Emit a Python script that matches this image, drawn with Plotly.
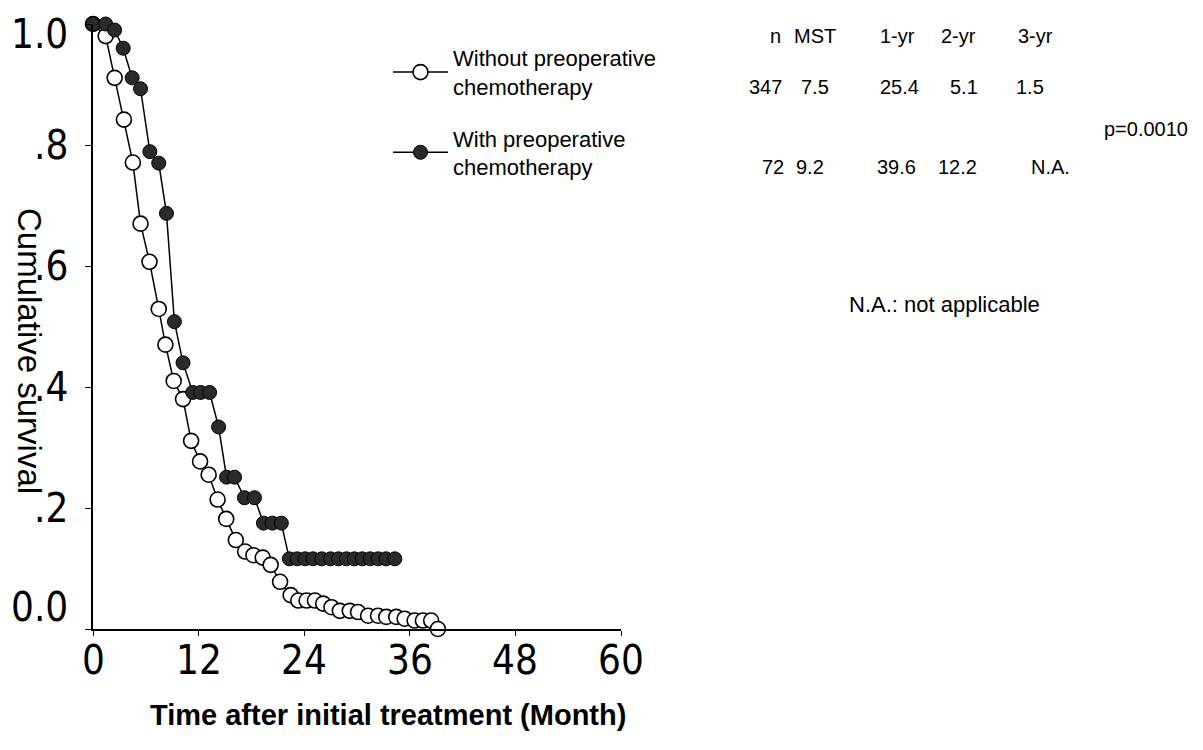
import plotly.graph_objects as go

# ---------------- data ----------------
without_t = [0, 1.44, 2.46, 3.51, 4.53, 5.40, 6.42, 7.47, 8.23, 9.17, 10.23, 11.15, 12.17,
             13.14, 14.16, 15.14, 16.23, 17.29, 18.23, 19.29, 20.19, 21.26, 22.46, 23.33,
             24.27, 25.22, 26.16, 27.10, 28.05, 29.18, 30.12, 31.26, 32.39, 33.33, 34.46,
             35.41, 36.55, 37.49, 38.43, 39.19]
without_s = [1.0, 0.980, 0.911, 0.842, 0.771, 0.670, 0.607, 0.529, 0.470, 0.410, 0.380, 0.311,
             0.277, 0.255, 0.214, 0.182, 0.147, 0.128, 0.122, 0.118, 0.106, 0.078, 0.056,
             0.047, 0.047, 0.047, 0.042, 0.036, 0.030, 0.030, 0.028, 0.022, 0.022, 0.020,
             0.020, 0.017, 0.014, 0.014, 0.014, 0.0]

with_t = [0, 1.44, 2.46, 3.43, 4.45, 5.40, 6.46, 7.47, 8.35, 9.25, 10.23, 11.33, 12.23, 13.25,
          14.27, 15.18, 16.08, 17.21, 18.35, 19.37, 20.38, 21.40, 22.31, 23.2, 24.1, 25.0,
          26.0, 27.0, 27.9, 28.8, 29.7, 30.6, 31.5, 32.4, 33.3, 34.3]
with_s = [1.0, 1.0, 0.990, 0.960, 0.911, 0.893, 0.789, 0.770, 0.687, 0.508, 0.440, 0.391,
          0.391, 0.391, 0.334, 0.251, 0.251, 0.217, 0.217, 0.175, 0.175, 0.175, 0.116, 0.116,
          0.116, 0.116, 0.116, 0.116, 0.116, 0.116, 0.116, 0.116, 0.116, 0.116, 0.116, 0.116]

series_names = ["Without preoperative<br>chemotherapy", "With preoperative<br>chemotherapy"]

x_tick_vals = [0, 12, 24, 36, 48, 60]
x_tick_text = ["0", "12", "24", "36", "48", "60"]
y_tick_vals = [0.0, 0.2, 0.4, 0.6, 0.8, 1.0]
y_tick_text = ["0.0", ".2", ".4", ".6", ".8", "1.0"]

table_header = ["n", "MST", "1-yr", "2-yr", "3-yr"]
table_without = ["347", "7.5", "25.4", "5.1", "1.5"]
table_with = ["72", "9.2", "39.6", "12.2", "N.A."]
p_value_text = "p=0.0010"
na_note = "N.A.: not applicable"

x_title = "Time after initial treatment (Month)"
y_title = "Cumulative survival"

# ---------------- layout geometry ----------------
W, H = 1203, 750
PL, PR, PT, PB = 85, 613, 16, 621   # plot-area pixel edges


def px_x(px):
    return (px - PL) / (PR - PL)


def px_y(py):
    return (PB - py) / (PB - PT)


TICK_FONT = "Liberation Sans Narrow, Arial Narrow, DejaVu Sans Condensed, Liberation Sans, Arial"
TEXT_FONT = "Liberation Sans, Arial, Helvetica, sans-serif"

fig = go.Figure()

fig.add_trace(go.Scatter(
    x=without_t, y=without_s, name=series_names[0], mode="lines+markers",
    line=dict(color="black", width=1.5),
    marker=dict(symbol="circle", size=15, color="white", line=dict(color="black", width=1.6)),
    cliponaxis=False, legendgroup="a",
))
fig.add_trace(go.Scatter(
    x=with_t, y=with_s, name=series_names[1], mode="lines+markers",
    line=dict(color="black", width=1.5),
    marker=dict(symbol="circle", size=14, color="#2a2a2a", line=dict(color="black", width=1)),
    cliponaxis=False, legendgroup="b",
))

annotations = []

# y tick labels (zero label sits slightly above the x axis; top label kept inside the page)
for v, t in zip(y_tick_vals, y_tick_text):
    if v == 1.0:
        ya, ys = "top", PT - 1
    else:
        ya, ys = "middle", (22 if v == 0 else 0)
    annotations.append(dict(
        x=0, y=v, xref="paper", yref="y", text=t, showarrow=False,
        xanchor="right", yanchor=ya, xshift=-23, yshift=ys,
        font=dict(family=TICK_FONT, size=40, color="black"),
    ))
# x tick labels
for v, t in zip(x_tick_vals, x_tick_text):
    annotations.append(dict(
        x=v, y=0, xref="x", yref="paper", text=t, showarrow=False,
        xanchor="center", yanchor="middle", yshift=-31,
        font=dict(family=TICK_FONT, size=40, color="black"),
    ))

# axis titles
annotations.append(dict(
    x=px_x(380), y=px_y(707), xref="paper", yref="paper", text="<b>" + x_title + "</b>",
    showarrow=False, xanchor="center", yanchor="middle",
    font=dict(family=TEXT_FONT, size=29, color="black"),
))
annotations.append(dict(
    x=px_x(22), y=px_y(343), xref="paper", yref="paper", text=y_title, textangle=90,
    showarrow=False, xanchor="center", yanchor="middle",
    font=dict(family=TEXT_FONT, size=33, color="black"),
))

# table
TFS = 20
col_x_header = [767, 807, 889, 950, 1027]
col_x_row1 = [757, 807, 891, 956, 1022]
col_x_row2 = [765, 802, 888, 949, 1042]
for txt, cx in zip(table_header, col_x_header):
    annotations.append(dict(x=px_x(cx), y=px_y(28), xref="paper", yref="paper", text=txt,
                            showarrow=False, xanchor="center", yanchor="middle",
                            font=dict(family=TEXT_FONT, size=TFS, color="black")))
for txt, cx in zip(table_without, col_x_row1):
    annotations.append(dict(x=px_x(cx), y=px_y(79), xref="paper", yref="paper", text=txt,
                            showarrow=False, xanchor="center", yanchor="middle",
                            font=dict(family=TEXT_FONT, size=TFS, color="black")))
for txt, cx in zip(table_with, col_x_row2):
    annotations.append(dict(x=px_x(cx), y=px_y(159), xref="paper", yref="paper", text=txt,
                            showarrow=False, xanchor="center", yanchor="middle",
                            font=dict(family=TEXT_FONT, size=TFS, color="black")))
annotations.append(dict(x=px_x(1182), y=px_y(121), xref="paper", yref="paper", text=p_value_text,
                        showarrow=False, xanchor="right", yanchor="middle",
                        font=dict(family=TEXT_FONT, size=TFS, color="black")))
annotations.append(dict(x=px_x(936), y=px_y(296), xref="paper", yref="paper", text=na_note,
                        showarrow=False, xanchor="center", yanchor="middle",
                        font=dict(family=TEXT_FONT, size=22, color="black")))

fig.update_layout(
    width=W, height=H,
    margin=dict(l=PL, r=W - PR, t=PT, b=H - PB, autoexpand=False),
    paper_bgcolor="white", plot_bgcolor="white",
    showlegend=True,
    legend=dict(
        x=px_x(380), y=px_y(29), xanchor="left", yanchor="top",
        font=dict(family=TEXT_FONT, size=22, color="black"),
        bgcolor="rgba(0,0,0,0)", tracegroupgap=20, itemwidth=55,
    ),
    annotations=annotations,
    xaxis=dict(
        range=[0, 60], tickvals=x_tick_vals, showticklabels=False,
        showline=True, linecolor="black", linewidth=1.5, ticks="outside", ticklen=5,
        tickcolor="black", showgrid=False, zeroline=False,
    ),
    yaxis=dict(
        range=[0, 1], tickvals=y_tick_vals, showticklabels=False,
        showline=True, linecolor="black", linewidth=1.5, ticks="outside", ticklen=6,
        tickcolor="black", showgrid=False, zeroline=False,
    ),
)

fig.write_html("out.html")
